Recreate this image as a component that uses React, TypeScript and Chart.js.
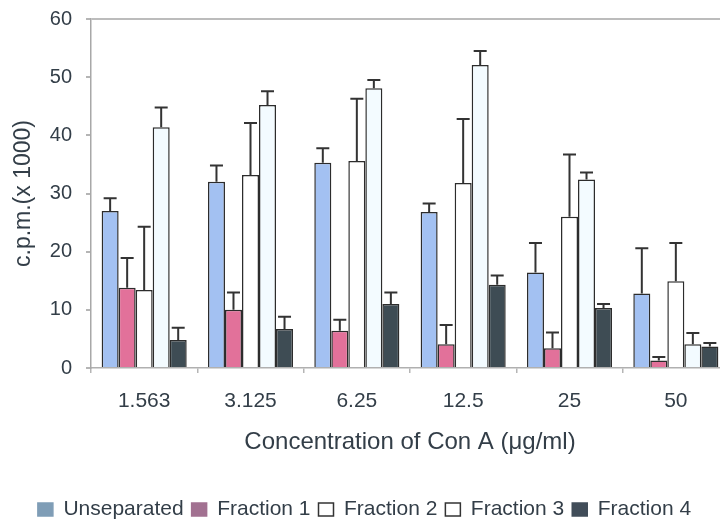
import React, { useEffect, useRef } from "react";
import { Chart, registerables } from "chart.js";

Chart.register(...registerables);

const categories = ["1.563", "3.125", "6.25", "12.5", "25", "50"];
const seriesNames = ["Unseparated", "Fraction 1", "Fraction 2", "Fraction 3", "Fraction 4"];

const unseparated = [27.0, 32.0, 35.3, 26.8, 16.4, 12.8];
const fraction1 = [13.8, 10.0, 6.4, 4.1, 3.4, 1.3];
const fraction2 = [13.4, 33.2, 35.6, 31.8, 26.0, 14.9];
const fraction3 = [41.4, 45.2, 48.1, 52.1, 32.4, 4.1];
const fraction4 = [4.8, 6.7, 11.0, 14.3, 10.3, 3.7];

const unseparatedErr = [2.2, 2.8, 2.5, 1.5, 5.1, 7.8];
const fraction1Err = [5.1, 3.0, 1.9, 3.3, 2.7, 0.6];
const fraction2Err = [10.9, 8.9, 10.7, 11.0, 10.7, 6.6];
const fraction3Err = [3.4, 2.4, 1.4, 2.4, 1.2, 1.9];
const fraction4Err = [2.1, 2.1, 2.0, 1.6, 0.7, 0.6];

const yTicks = [0, 10, 20, 30, 40, 50, 60];

const barColors = ["#a3c1f2", "#e2719a", "#ffffff", "#f3fbff", "#3e4c54"];
const legendColors = ["#7f9db6", "#a27191", "#ffffff", "#ffffff", "#414d59"];

const FONT = "'Liberation Sans', Arial, sans-serif";
const TEXT = "#333e48";

const errorBarPlugin = {
  id: "errorBars",
  afterDatasetsDraw(chart: any) {
    const ctx = chart.ctx;
    const yScale = chart.scales.y;
    ctx.save();
    ctx.strokeStyle = "#333333";
    ctx.lineWidth = 2;
    chart.data.datasets.forEach((ds: any, di: number) => {
      const meta = chart.getDatasetMeta(di);
      meta.data.forEach((bar: any, i: number) => {
        const v = ds.data[i];
        const e = ds.errors[i];
        const yTop = yScale.getPixelForValue(v + e);
        const x = bar.x;
        ctx.beginPath();
        ctx.moveTo(x, bar.y);
        ctx.lineTo(x, yTop);
        ctx.moveTo(x - 6.5, yTop);
        ctx.lineTo(x + 6.5, yTop);
        ctx.stroke();
      });
    });
    ctx.restore();
  },
};

export default function App() {
  const ref = useRef<HTMLCanvasElement | null>(null);

  useEffect(() => {
    if (!ref.current) return;
    const values = [unseparated, fraction1, fraction2, fraction3, fraction4];
    const errs = [unseparatedErr, fraction1Err, fraction2Err, fraction3Err, fraction4Err];
    const chart = new Chart(ref.current, {
      type: "bar",
      data: {
        labels: categories,
        datasets: seriesNames.map((name, i) => ({
          label: name,
          data: values[i],
          errors: errs[i],
          backgroundColor: barColors[i],
          borderColor: "#2c2c2c",
          borderWidth: 1.5,
          categoryPercentage: 0.8,
          barPercentage: 1.0,
        })) as any,
      },
      options: {
        responsive: false,
        animation: false,
        devicePixelRatio: 1,
        layout: { padding: { top: 19, right: 11, bottom: 0, left: 0 } },
        plugins: {
          tooltip: { enabled: false },
          legend: {
            position: "bottom",
            labels: {
              font: { family: FONT, size: 21 },
              color: TEXT,
              boxWidth: 15,
              boxHeight: 13,
              padding: 8,
              generateLabels: () =>
                seriesNames.map((name, i) => ({
                  text: name,
                  fillStyle: legendColors[i],
                  strokeStyle: i === 2 || i === 3 ? "#333333" : legendColors[i],
                  lineWidth: 1.5,
                  fontColor: TEXT,
                  hidden: false,
                  datasetIndex: i,
                })),
            },
          },
        },
        scales: {
          x: {
            afterFit: (s: any) => {
              s.height = 123;
            },
            grid: {
              display: true,
              drawOnChartArea: false,
              offset: true,
              tickLength: 5,
              tickColor: "#b5b5b5",
              lineWidth: 1.5,
            },
            border: { color: "#b0b0b0", width: 1.5 },
            ticks: {
              color: TEXT,
              font: { family: FONT, size: 21 },
              padding: 16,
              maxRotation: 0,
            },
            title: {
              display: true,
              text: "Concentration of Con A (\u03bcg/ml)",
              color: TEXT,
              font: { family: FONT, size: 24 },
              padding: { top: 0, bottom: 34 },
            },
          },
          y: {
            min: 0,
            max: 60,
            afterFit: (s: any) => {
              s.width = 91;
              s.paddingTop = 0;
              s.paddingBottom = 0;
            },
            afterBuildTicks: (s: any) => {
              s.ticks = yTicks.map((v) => ({ value: v }));
            },
            grid: {
              color: (c: any) => (c.tick && c.tick.value === 60 ? "#bcbcbc" : "rgba(0,0,0,0)"),
              lineWidth: 2,
              tickColor: "#b5b5b5",
              tickLength: 5,
            },
            border: { color: "#a8a8a8", width: 1.5 },
            ticks: {
              color: TEXT,
              font: { family: FONT, size: 20 },
              padding: 14,
            },
            title: {
              display: true,
              text: "c.p.m.(x 1000)",
              color: TEXT,
              font: { family: FONT, size: 23 },
              padding: { top: 10, bottom: 0 },
            },
          },
        },
      },
      plugins: [errorBarPlugin],
    });
    return () => chart.destroy();
  }, []);

  return (
    <div
      style={{
        position: "fixed",
        left: 0,
        top: 0,
        width: 720,
        height: 524,
        overflow: "hidden",
        background: "#ffffff",
      }}
    >
      <canvas ref={ref} width={740} height={530} style={{ display: "block" }} />
    </div>
  );
}
